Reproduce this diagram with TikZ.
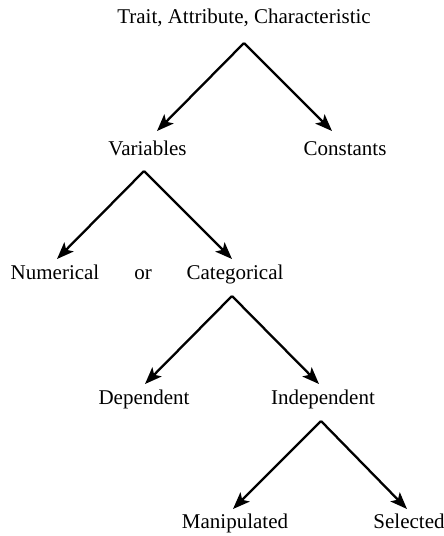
\documentclass[tikz,border=0pt]{standalone}
\usepackage{fontspec}
\setmainfont{Liberation Serif}
\usetikzlibrary{arrows.meta}
\begin{document}
\begin{tikzpicture}[x=1pt,y=-1pt,
  term/.style={anchor=base,inner sep=0pt,font=\fontsize{21}{24}\selectfont},
  branch/.style={line width=2.3pt,-{Stealth[length=17pt,width=13pt,inset=4pt]}}]
\useasboundingbox (0,0) rectangle (444,536);
% labels
\node[term] (trait) at (244,23) {Trait, Attribute, Characteristic};
\node[term] (var) at (147.5,155) {Variables};
\node[term] (const) at (345,155) {Constants};
\node[term] (num) at (55,279) {Numerical};
\node[term] (or) at (143,279) {or};
\node[term] (cat) at (235,279) {Categorical};
\node[term] (dep) at (144,404) {Dependent};
\node[term] (indep) at (323,404) {Independent};
\node[term] (manip) at (235,528) {Manipulated};
\node[term] (sel) at (409,528) {Selected};
% branch points
\coordinate (a1) at (244,43);
\coordinate (l1) at (157,131);
\coordinate (r1) at (332,131);
\coordinate (a2) at (144,171);
\coordinate (l2) at (57,259);
\coordinate (r2) at (232,259);
\coordinate (a3) at (232,296);
\coordinate (l3) at (145,384);
\coordinate (r3) at (319,384);
\coordinate (a4) at (321,421);
\coordinate (l4) at (233,509);
\coordinate (r4) at (407,509);
% connectors
\draw[branch] (a1) -- (l1);
\draw[branch] (a1) -- (r1);
\draw[branch] (a2) -- (l2);
\draw[branch] (a2) -- (r2);
\draw[branch] (a3) -- (l3);
\draw[branch] (a3) -- (r3);
\draw[branch] (a4) -- (l4);
\draw[branch] (a4) -- (r4);
\end{tikzpicture}
\end{document}
